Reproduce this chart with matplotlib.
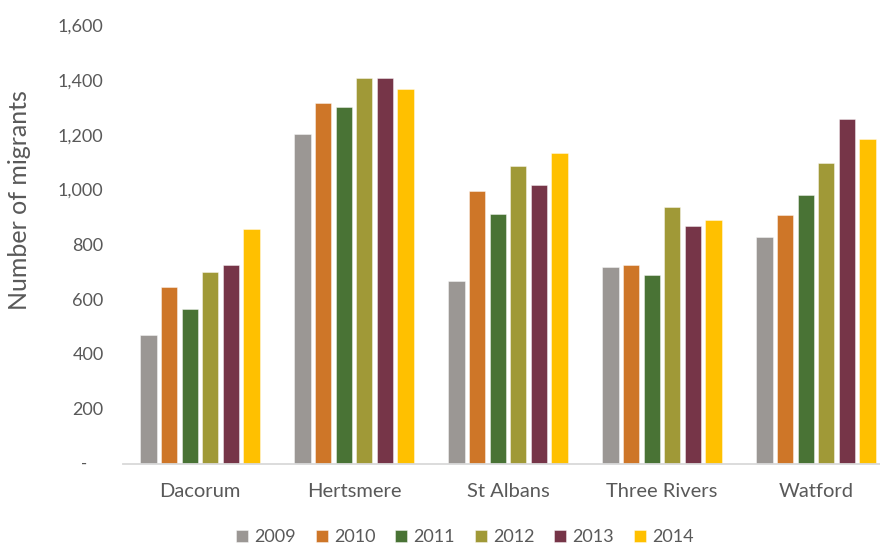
import matplotlib
matplotlib.use("Agg")
import matplotlib.pyplot as plt
import numpy as np
from matplotlib.ticker import FuncFormatter

categories = ["Dacorum", "Hertsmere", "St Albans", "Three Rivers", "Watford"]
years = ["2009", "2010", "2011", "2012", "2013", "2014"]
v2009 = [470, 1201, 667, 716, 827]
v2010 = [644, 1314, 996, 723, 907]
v2011 = [565, 1299, 910, 686, 978]
v2012 = [697, 1405, 1086, 935, 1098]
v2013 = [725, 1405, 1018, 866, 1256]
v2014 = [855, 1365, 1132, 888, 1183]
series = [v2009, v2010, v2011, v2012, v2013, v2014]
colors = ["#9B9794", "#CE7628", "#497335", "#A09937", "#763548", "#FFC000"]

plt.rcParams['font.family'] = ['Lato', 'DejaVu Sans']
txt = "#595959"

fig = plt.figure(figsize=(8.8, 5.47), dpi=100)
ax = fig.add_axes([123/880, 1-463.5/547, (880-123)/880, (463.5-25)/547])

x = np.arange(len(categories))
pitch = 0.134
width = 0.106
for i, (vals, c, yr) in enumerate(zip(series, colors, years)):
    ax.bar(x + (i - 2.5) * pitch, vals, width=width, color=c, label=yr,
           edgecolor=(1, 1, 1, 0.5), linewidth=0.6, zorder=2)

ax.set_xlim(-0.5, -0.5 + (880-123)/154)
ax.set_ylim(0, 1600)
ax.set_yticks(np.arange(0, 1601, 200))
ax.yaxis.set_major_formatter(FuncFormatter(lambda v, p: "" if v == 0 else f"{int(v):,}"))
ax.annotate("-", xy=(0, 0), xycoords=("axes fraction", "data"), xytext=(-26, 0),
            textcoords="offset points", ha="right", va="center", fontsize=12, color=txt)
ax.tick_params(axis='y', length=0, pad=14, labelsize=13, labelcolor=txt)
ax.tick_params(axis='x', length=0, pad=14, labelsize=14.5, labelcolor=txt)
ax.set_xticks(x)
ax.set_xticklabels(categories)

for s in ["top", "right", "left"]:
    ax.spines[s].set_visible(False)
ax.spines["bottom"].set_color("#D9D9D9")
ax.spines["bottom"].set_linewidth(1.3)

ax.set_ylabel("Number of migrants", fontsize=18, color=txt)
ax.yaxis.set_label_coords(-0.122, 0.60)

leg = fig.legend(loc="center", bbox_to_anchor=(465/880, 1-537/547), ncol=6, frameon=False,
                 fontsize=13, handlelength=0.65, handleheight=0.65, handletextpad=0.35,
                 columnspacing=1.1, labelcolor=txt)

fig.savefig("out.png", dpi=100)
